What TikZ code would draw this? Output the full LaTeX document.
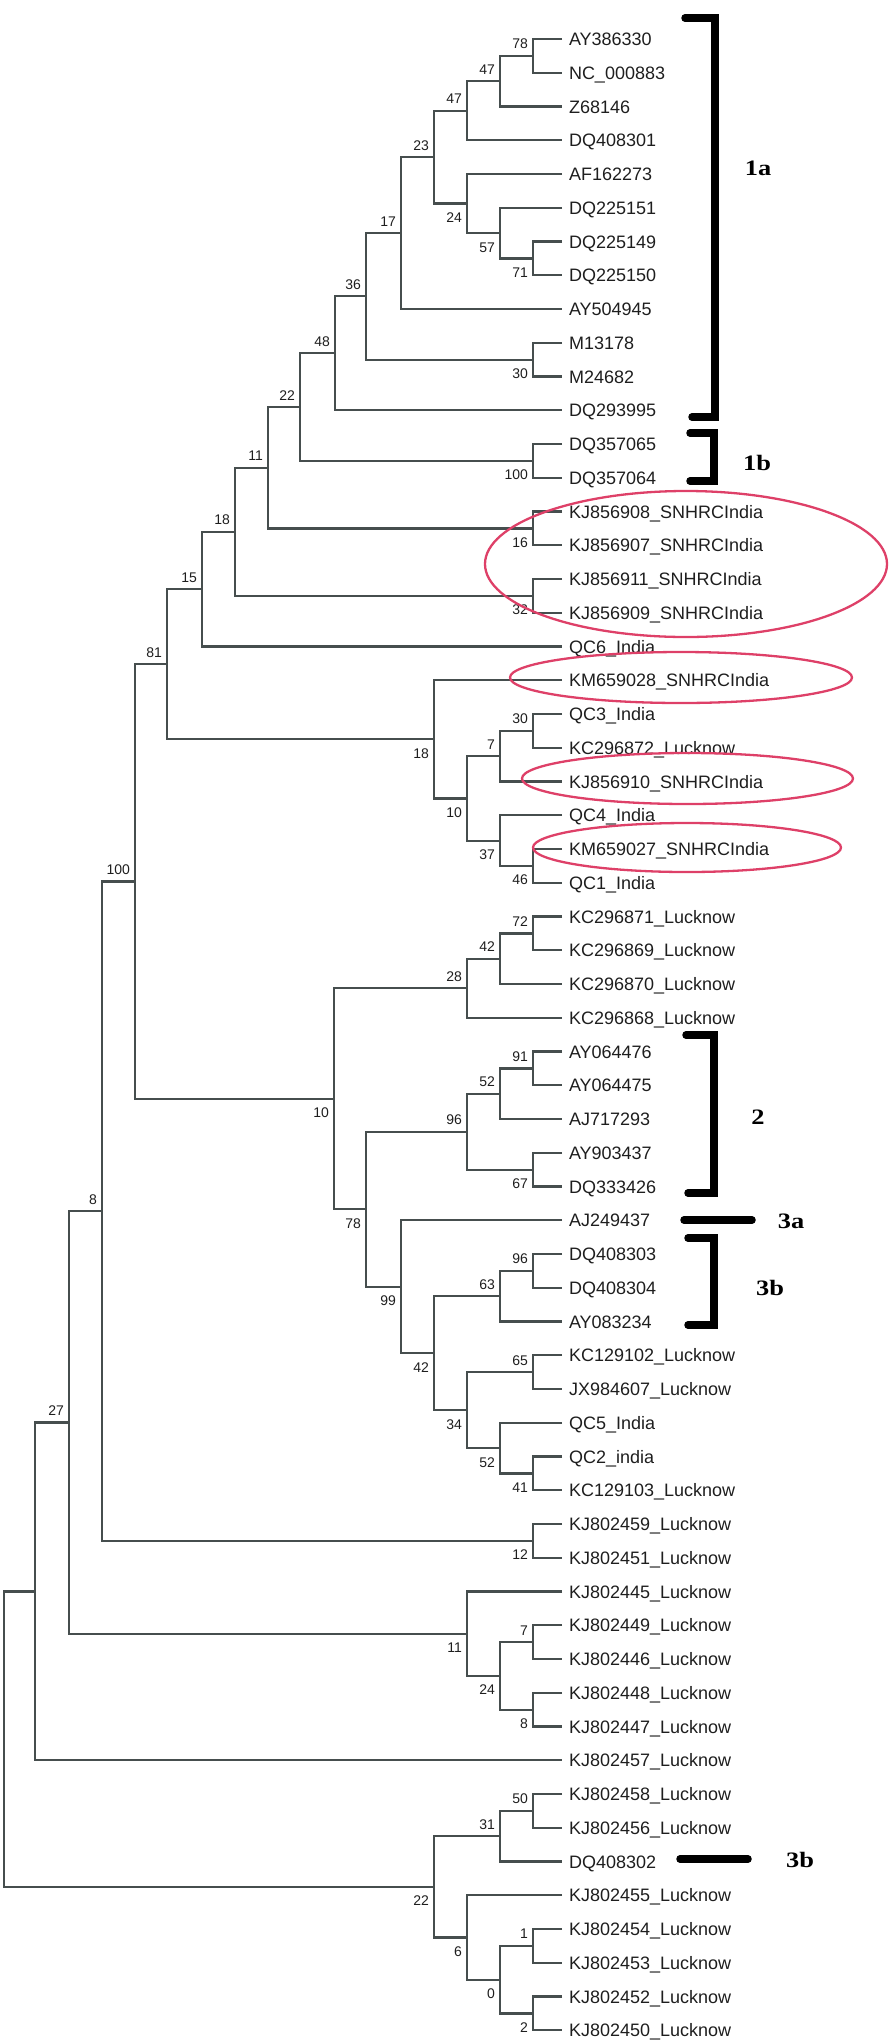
\documentclass[tikz,border=0pt]{standalone}
\usepackage{graphicx}
\usepackage{fontspec}
\setmainfont{Liberation Sans}
\newfontfamily\brfont{Liberation Serif}
\definecolor{treec}{RGB}{70,78,78}
\definecolor{ellc}{RGB}{222,64,104}
\definecolor{txtc}{RGB}{30,30,30}
\newcommand\bsU[2]{\path (#1) ++(-5,-12) node[bs] (b#1) {#2};}
\newcommand\bsD[2]{\path (#1) ++(-5,14) node[bs] (b#1) {#2};}
\begin{document}
\begin{tikzpicture}[x=1pt,y=-1pt,
  br/.style={draw=treec,line width=2.2pt,line join=miter},
  leaf/.style={anchor=west,inner xsep=7pt,inner ysep=0pt,outer sep=0pt,font=\fontsize{18}{18}\selectfont,text=txtc,text height=13pt,text depth=0pt},
  bs/.style={anchor=east,inner sep=0pt,outer sep=0pt,font=\fontsize{14}{14}\selectfont,text=txtc,text height=10pt,text depth=0pt},
  ell/.style={draw=ellc,line width=2.3pt},
  brk/.style={draw=black,line width=7.5pt,line cap=round,line join=miter},
  brl/.style={inner sep=0pt,font=\brfont\bfseries\fontsize{22}{22}\selectfont,text=black}]
\useasboundingbox (0,0) rectangle (890,2043);
% leaves
\foreach \t [count=\i] in {AY386330,NC\_000883,Z68146,DQ408301,AF162273,DQ225151,DQ225149,DQ225150,AY504945,M13178,M24682,DQ293995,DQ357065,DQ357064,KJ856908\_SNHRCIndia,KJ856907\_SNHRCIndia,KJ856911\_SNHRCIndia,KJ856909\_SNHRCIndia,QC6\_India,KM659028\_SNHRCIndia,QC3\_India,KC296872\_Lucknow,KJ856910\_SNHRCIndia,QC4\_India,KM659027\_SNHRCIndia,QC1\_India,KC296871\_Lucknow,KC296869\_Lucknow,KC296870\_Lucknow,KC296868\_Lucknow,AY064476,AY064475,AJ717293,AY903437,DQ333426,AJ249437,DQ408303,DQ408304,AY083234,KC129102\_Lucknow,JX984607\_Lucknow,QC5\_India,QC2\_india,KC129103\_Lucknow,KJ802459\_Lucknow,KJ802451\_Lucknow,KJ802445\_Lucknow,KJ802449\_Lucknow,KJ802446\_Lucknow,KJ802448\_Lucknow,KJ802447\_Lucknow,KJ802457\_Lucknow,KJ802458\_Lucknow,KJ802456\_Lucknow,DQ408302,KJ802455\_Lucknow,KJ802454\_Lucknow,KJ802453\_Lucknow,KJ802452\_Lucknow,KJ802450\_Lucknow}
  \node[leaf] (l\i) at (562,{39+(\i-1)*33.75}) {\t};
% internal nodes
\coordinate (n1) at (533,55.9);
\coordinate (n2) at (500,81.2);
\coordinate (n3) at (467,110.7);
\coordinate (n4) at (533,258.4);
\coordinate (n5) at (500,233.1);
\coordinate (n6) at (467,203.5);
\coordinate (n7) at (434,157.1);
\coordinate (n8) at (401,233.1);
\coordinate (n9) at (533,359.6);
\coordinate (n10) at (366,296.3);
\coordinate (n11) at (335,353.3);
\coordinate (n12) at (533,460.9);
\coordinate (n13) at (300,407.1);
\coordinate (n14) at (533,528.4);
\coordinate (n15) at (268,467.7);
\coordinate (n16) at (533,595.9);
\coordinate (n17) at (235,531.8);
\coordinate (n18) at (202,589.2);
\coordinate (n19) at (533,730.9);
\coordinate (n20) at (500,756.2);
\coordinate (n21) at (533,865.9);
\coordinate (n22) at (500,840.6);
\coordinate (n23) at (467,798.4);
\coordinate (n24) at (434,739.3);
\coordinate (n25) at (167,664.2);
\coordinate (n26) at (533,933.4);
\coordinate (n27) at (500,958.7);
\coordinate (n28) at (467,988.2);
\coordinate (n29) at (533,1068.4);
\coordinate (n30) at (500,1093.7);
\coordinate (n31) at (533,1169.6);
\coordinate (n32) at (467,1131.7);
\coordinate (n33) at (533,1270.9);
\coordinate (n34) at (500,1296.2);
\coordinate (n35) at (533,1372.1);
\coordinate (n36) at (533,1473.4);
\coordinate (n37) at (500,1448.1);
\coordinate (n38) at (467,1410.1);
\coordinate (n39) at (434,1353.1);
\coordinate (n40) at (401,1286.7);
\coordinate (n41) at (366,1209.2);
\coordinate (n42) at (334,1098.7);
\coordinate (n43) at (135,881.5);
\coordinate (n44) at (533,1540.9);
\coordinate (n45) at (102,1211.2);
\coordinate (n46) at (533,1642.1);
\coordinate (n47) at (533,1709.6);
\coordinate (n48) at (500,1675.9);
\coordinate (n49) at (467,1633.7);
\coordinate (n50) at (69,1422.5);
\coordinate (n51) at (35,1591.4);
\coordinate (n52) at (533,1810.9);
\coordinate (n53) at (500,1836.2);
\coordinate (n54) at (533,1945.9);
\coordinate (n55) at (533,2013.4);
\coordinate (n56) at (500,1979.6);
\coordinate (n57) at (467,1937.4);
\coordinate (n58) at (434,1886.8);
\coordinate (n59) at (4,1739.1);
% branches
\draw[br] (l1.west) -| (n1) |- (l2.west);
\draw[br] (n1) -| (n2) |- (l3.west);
\draw[br] (n2) -| (n3) |- (l4.west);
\draw[br] (l7.west) -| (n4) |- (l8.west);
\draw[br] (l6.west) -| (n5) |- (n4);
\draw[br] (l5.west) -| (n6) |- (n5);
\draw[br] (n3) -| (n7) |- (n6);
\draw[br] (n7) -| (n8) |- (l9.west);
\draw[br] (l10.west) -| (n9) |- (l11.west);
\draw[br] (n8) -| (n10) |- (n9);
\draw[br] (n10) -| (n11) |- (l12.west);
\draw[br] (l13.west) -| (n12) |- (l14.west);
\draw[br] (n11) -| (n13) |- (n12);
\draw[br] (l15.west) -| (n14) |- (l16.west);
\draw[br] (n13) -| (n15) |- (n14);
\draw[br] (l17.west) -| (n16) |- (l18.west);
\draw[br] (n15) -| (n17) |- (n16);
\draw[br] (n17) -| (n18) |- (l19.west);
\draw[br] (l21.west) -| (n19) |- (l22.west);
\draw[br] (n19) -| (n20) |- (l23.west);
\draw[br] (l25.west) -| (n21) |- (l26.west);
\draw[br] (l24.west) -| (n22) |- (n21);
\draw[br] (n20) -| (n23) |- (n22);
\draw[br] (l20.west) -| (n24) |- (n23);
\draw[br] (n18) -| (n25) |- (n24);
\draw[br] (l27.west) -| (n26) |- (l28.west);
\draw[br] (n26) -| (n27) |- (l29.west);
\draw[br] (n27) -| (n28) |- (l30.west);
\draw[br] (l31.west) -| (n29) |- (l32.west);
\draw[br] (n29) -| (n30) |- (l33.west);
\draw[br] (l34.west) -| (n31) |- (l35.west);
\draw[br] (n30) -| (n32) |- (n31);
\draw[br] (l37.west) -| (n33) |- (l38.west);
\draw[br] (n33) -| (n34) |- (l39.west);
\draw[br] (l40.west) -| (n35) |- (l41.west);
\draw[br] (l43.west) -| (n36) |- (l44.west);
\draw[br] (l42.west) -| (n37) |- (n36);
\draw[br] (n35) -| (n38) |- (n37);
\draw[br] (n34) -| (n39) |- (n38);
\draw[br] (l36.west) -| (n40) |- (n39);
\draw[br] (n32) -| (n41) |- (n40);
\draw[br] (n28) -| (n42) |- (n41);
\draw[br] (n25) -| (n43) |- (n42);
\draw[br] (l45.west) -| (n44) |- (l46.west);
\draw[br] (n43) -| (n45) |- (n44);
\draw[br] (l48.west) -| (n46) |- (l49.west);
\draw[br] (l50.west) -| (n47) |- (l51.west);
\draw[br] (n46) -| (n48) |- (n47);
\draw[br] (l47.west) -| (n49) |- (n48);
\draw[br] (n45) -| (n50) |- (n49);
\draw[br] (n50) -| (n51) |- (l52.west);
\draw[br] (l53.west) -| (n52) |- (l54.west);
\draw[br] (n52) -| (n53) |- (l55.west);
\draw[br] (l57.west) -| (n54) |- (l58.west);
\draw[br] (l59.west) -| (n55) |- (l60.west);
\draw[br] (n54) -| (n56) |- (n55);
\draw[br] (l56.west) -| (n57) |- (n56);
\draw[br] (n53) -| (n58) |- (n57);
\draw[br] (n51) -| (n59) |- (n58);
% bootstrap values
\bsU{n1}{78}\bsU{n2}{47}\bsU{n3}{47}\bsD{n4}{71}\bsD{n5}{57}\bsD{n6}{24}
\bsU{n7}{23}\bsU{n8}{17}\bsD{n9}{30}\bsU{n10}{36}\bsU{n11}{48}\bsD{n12}{100}
\bsU{n13}{22}\bsD{n14}{16}\bsU{n15}{11}\bsD{n16}{32}\bsU{n17}{18}\bsU{n18}{15}
\bsU{n19}{30}\bsU{n20}{7}\bsD{n21}{46}\bsD{n22}{37}\bsD{n23}{10}\bsD{n24}{18}
\bsU{n25}{81}\bsU{n26}{72}\bsU{n27}{42}\bsU{n28}{28}\bsU{n29}{91}\bsU{n30}{52}
\bsD{n31}{67}\bsU{n32}{96}\bsU{n33}{96}\bsU{n34}{63}\bsU{n35}{65}\bsD{n36}{41}
\bsD{n37}{52}\bsD{n38}{34}\bsD{n39}{42}\bsD{n40}{99}\bsD{n41}{78}\bsD{n42}{10}
\bsU{n43}{100}\bsD{n44}{12}\bsU{n45}{8}\bsU{n46}{7}\bsD{n47}{8}\bsD{n48}{24}
\bsD{n49}{11}\bsU{n50}{27}\bsU{n52}{50}\bsU{n53}{31}\bsU{n54}{1}\bsD{n55}{2}
\bsD{n56}{0}\bsD{n57}{6}\bsD{n58}{22}
% ellipses
\draw[ell] (686,564) ellipse [x radius=201pt, y radius=73pt];
\draw[ell] (681,677.5) ellipse [x radius=171pt, y radius=25.5pt];
\draw[ell] (687.5,778.5) ellipse [x radius=165.5pt, y radius=25.5pt];
\draw[ell] (687,847.5) ellipse [x radius=154pt, y radius=24.5pt];
% brackets
\draw[brk] (685,18) -- (715,18) -- (715,417) -- (692,417);
\draw[brk] (690,433) -- (714,433) -- (714,481) -- (690,481);
\draw[brk] (686,1035) -- (714,1035) -- (714,1193) -- (688,1193);
\draw[brk] (684,1220) -- (752,1220);
\draw[brk] (688,1238) -- (714,1238) -- (714,1325) -- (688,1325);
\draw[brk] (680,1859) -- (748,1859);
\node[brl] (t1a) at (758,168) {\scalebox{1.2}[1]{1a}};
\node[brl] (t1b) at (757,463) {\scalebox{1.2}[1]{1b}};
\node[brl] (t2) at (758,1117) {\scalebox{1.2}[1]{2}};
\node[brl] (t3a) at (791,1221) {\scalebox{1.2}[1]{3a}};
\node[brl] (t3b) at (770,1288) {\scalebox{1.2}[1]{3b}};
\node[brl] (t3c) at (800,1860) {\scalebox{1.2}[1]{3b}};
\end{tikzpicture}
\end{document}
